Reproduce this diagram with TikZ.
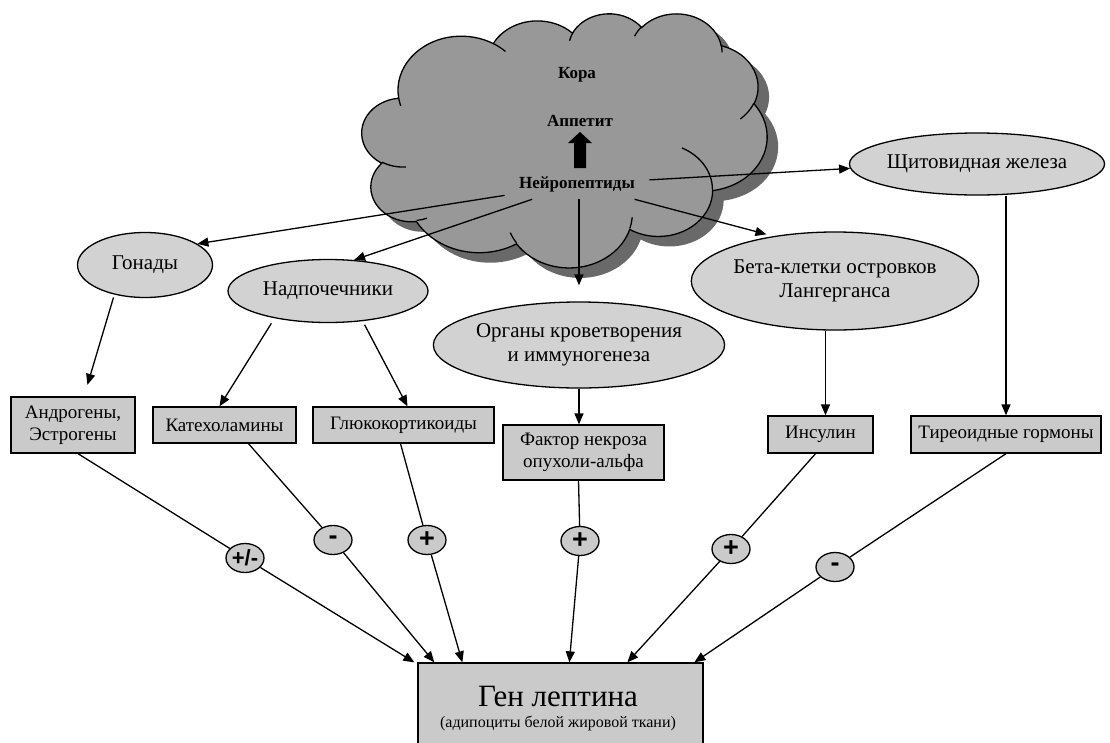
\documentclass[tikz,border=0pt]{standalone}
\usepackage{fontspec}
\setmainfont{Liberation Serif}
\newfontfamily\signfont{Liberation Sans}
\usetikzlibrary{shapes.geometric,arrows.meta,calc}
\definecolor{ellc}{RGB}{210,210,210}
\definecolor{boxc}{RGB}{202,202,202}
\definecolor{cloudc}{RGB}{152,152,152}
\definecolor{shadc}{RGB}{105,105,105}
\newcommand\cloudarc[4]{%
  \pgfmathsetmacro\tsA{atan2((#1)*sin(#3),(#2)*cos(#3))}%
  \pgfmathsetmacro\teA{atan2((#1)*sin((#3)+(#4)),(#2)*cos((#3)+(#4)))}%
  \pgfmathsetmacro\dlA{mod(\teA-\tsA+720,360)}}
\newcommand\carc[4]{\pgfextra{\cloudarc{#1}{#2}{#3}{#4}} arc[start angle=\tsA,delta angle=\dlA,x radius=#1,y radius=#2]}
\newcommand\drawcloud[1]{%
  \path[#1] (39.00,143.70)
   \carc{67.53}{91.90}{-190.48748}{123.78053}
   \carc{53.33}{72.67}{-144.10238}{89.94523}
   \carc{43.65}{59.45}{-145.80792}{99.72302}
   \carc{48.57}{65.95}{-130.98607}{117.24173}
   \carc{53.33}{72.73}{-78.70888}{109.02692}
   \carc{67.75}{92.20}{-46.26725}{130.269}
   \carc{57.85}{78.67}{0.62502}{114.03333}
   \carc{67.52}{92.15}{22.4516}{115.17255}
   \carc{77.20}{105.43}{66.24263}{75.71102}
   \carc{43.60}{59.18}{-274.94208}{146.73557}
   \carc{43.45}{59.45}{-246.8285}{152.51885}
   -- cycle;}
\begin{document}
\begin{tikzpicture}[x=1pt,y=-1pt,line width=1.3pt,
  arr/.style={-{Triangle[length=11pt,width=9pt]}},
  oval/.style={ellipse,draw,fill=ellc,inner sep=0pt,align=center,font=\fontsize{21}{24}\selectfont},
  hbox/.style={rectangle,draw,fill=boxc,inner sep=0pt,align=center,font=\fontsize{19}{22}\selectfont},
  sign/.style={ellipse,draw,fill=boxc,minimum width=38pt,minimum height=29pt,inner sep=0pt},
  signtxt/.style={inner sep=0pt,font=\signfont\bfseries\fontsize{27}{27}\selectfont},
  ctext/.style={font=\bfseries\fontsize{17}{20}\selectfont},
  cloudscale/.style={x={(0.9375pt,0pt)},y={(0pt,-0.588pt)}}
]
\useasboundingbox (0,0) rectangle (1110,742);

% cloud (shadow, body, inner puff arcs)
\begin{scope}[shift={(373,23)},cloudscale]
  \drawcloud{fill=shadc}
\end{scope}
\begin{scope}[shift={(362,13)},cloudscale]
  \drawcloud{fill=cloudc,draw}
  \draw (46.93,261.77) \carc{43.45}{59.45}{86.742}{26.4295}
        (69.28,348.99) \carc{43.60}{59.18}{73.61047}{11.44747}
        (164.78,390.90) \carc{67.52}{92.15}{137.62415}{14.0811}
        (288.27,347.51) \carc{67.52}{92.15}{6.45327}{15.99835}
        (341.29,229.54) \carc{57.85}{78.67}{-70.29235}{70.91737}
        (417.98,153.54) \carc{53.33}{72.73}{30.31803}{27.7515}
        (383.24,54.26) \carc{48.57}{65.95}{-13.74433}{14.8589}
        (290.78,39.52) \carc{48.57}{65.95}{-149.18145}{18.19537}
        (221.41,47.20) \carc{43.65}{59.45}{-163.49427}{17.68635}
        (140.00,51.92) \carc{67.53}{91.90}{-66.70695}{12.31935}
        (41.27,157.89) \carc{67.53}{91.90}{157.65435}{11.85817};
\end{scope}
\node[ctext] (kora) at (577,75) {Кора};
\node[ctext] (app) at (580,121) {Аппетит};
\node[ctext,inner xsep=14pt,inner ysep=7pt] (neuro) at (577,184) {Нейропептиды};
\fill (574,168) -- (574,143) -- (568,143) -- (580,132) -- (592,143) -- (586,143) -- (586,168) -- cycle;

% ellipses
\node[oval,minimum width=135pt,minimum height=65pt] (gon) at (145,265) {Гонады};
\node[oval,minimum width=200pt,minimum height=63pt] (adr) at (328,291) {Надпочечники};
\node[oval,minimum width=208pt,minimum height=86pt] (org) at (579,345) {Органы кроветворения\\и иммуногенеза};
\node[oval,minimum width=284pt,minimum height=98pt] (beta) at (835,281) {Бета-клетки островков\\Лангерганса};
\node[oval,minimum width=245pt,minimum height=62pt] (thy) at (977,164) {Щитовидная железа};

% boxes
\node[hbox,minimum width=124pt,minimum height=56pt] (andro) at (73,425) {Андрогены,\\Эстрогены};
\node[hbox,minimum width=143pt,minimum height=36pt] (kat) at (224.5,425) {Катехоламины};
\node[hbox,minimum width=181pt,minimum height=36pt] (glu) at (403.5,425) {Глюкокортикоиды};
\node[hbox,minimum width=161pt,minimum height=55pt] (fac) at (583.5,452.5) {Фактор некроза\\опухоли-альфа};
\node[hbox,minimum width=105pt,minimum height=37pt] (ins) at (820.5,434.5) {Инсулин};
\node[hbox,minimum width=190pt,minimum height=37pt] (tir) at (1006,434.5) {Тиреоидные гормоны};
\node[hbox,minimum width=285pt,minimum height=97pt] (gene) at (560.5,711.5) {};
\node[anchor=base,inner sep=0pt,font=\fontsize{31}{31}\selectfont] (genet) at (558,706) {Ген лептина};
\node[anchor=base,inner sep=0pt,font=\fontsize{16}{16}\selectfont] (genes) at (558,727) {(адипоциты белой жировой ткани)};

% neuropeptide arrows
\draw[arr] (neuro) -- (gon.22);
\draw[arr] (neuro) -- (adr.50);
\draw[arr,shorten >=16pt] (neuro.south -| org.north) -- (org.north);
\draw[arr,shorten >=7pt] (neuro) -- (beta.144);
\draw[arr] (neuro) -- (thy.182);

% organ -> hormone arrows
\draw[arr,shorten <=3pt,shorten >=12pt] (gon.224) -- ([xshift=11pt]andro.north);
\draw[arr,shorten <=6pt] (adr.207) -- ([xshift=-5pt]kat.north);
\draw[arr,shorten <=4pt] (adr.319) -- ([xshift=4pt]glu.north);
\draw[arr] (org.south) -- (org.south |- fac.north);
\coordinate (insTop) at ([xshift=5pt]ins.north);
\draw[arr] (beta.south -| insTop) -- (insTop);
\draw[arr] (thy.south -| tir.north) -- (tir.north);

% signs
\node[sign] (s1) at (245,558) {};
\node[sign] (s2) at (333,540) {};
\node[sign] (s3) at (427,540) {};
\node[sign] (s4) at (580,541) {};
\node[sign] (s5) at (731,549) {};
\node[sign] (s6) at (835,567) {};
\node[signtxt,font=\signfont\bfseries\fontsize{22}{22}\selectfont] (t1) at (s1) {+/-};
\node[signtxt] (t2) at (s2) {-};
\node[signtxt] (t3) at (s3) {+};
\node[signtxt] (t4) at (s4) {+};
\node[signtxt] (t5) at (s5) {+};
\node[signtxt] (t6) at (s6) {-};

% targets on gene box
\coordinate (g1) at ($(gene.north west)+(-3,0)$);
\coordinate (g2) at ($(gene.north west)+(17,0)$);
\coordinate (g3) at ($(gene.north west)+(45,0)$);
\coordinate (g4) at ($(gene.north west)+(152,0)$);
\coordinate (g5) at ($(gene.north west)+(210,0)$);
\coordinate (g6) at ($(gene.north west)+(277,0)$);

\draw ([xshift=5pt]andro.south) -- (s1);
\draw[arr] (s1) -- (g1);
\draw ([xshift=24pt]kat.south) -- (s2);
\draw[arr] (s2) -- (g2);
\draw ([xshift=-3pt]glu.south) -- (s3);
\draw[arr] (s3) -- (g3);
\draw ([xshift=-5pt]fac.south) -- (s4);
\draw[arr] (s4) -- (g4);
\draw ([xshift=-5pt]ins.south) -- (s5);
\draw[arr] (s5) -- (g5);
\draw (tir.south) -- (s6);
\draw[arr] (s6) -- (g6);
\end{tikzpicture}
\end{document}
